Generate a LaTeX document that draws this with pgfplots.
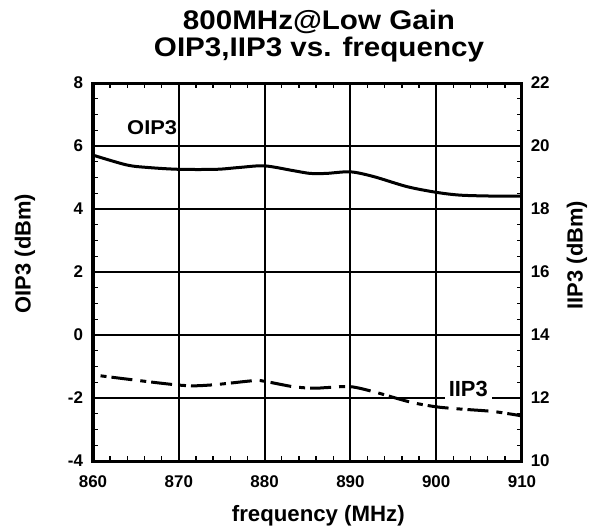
\documentclass[border=0pt]{standalone}
\usepackage{pgfplots}
\pgfplotsset{compat=1.18}
\usepackage{fontspec}
\setmainfont{Liberation Sans}
\begin{document}
\begin{tikzpicture}[font=\bfseries]
\useasboundingbox (-93bp,-70bp) rectangle (506bp,461bp);
\pgfplotsset{
  common/.style={
    scale only axis, width=429bp, height=378bp,
    xmin=860, xmax=910,
    tick align=inside,
    major tick length=0pt, minor tick length=5bp,
    tick style={black, line width=1.4bp},
    axis line style={line width=3bp},
    ticklabel style={font=\fontsize{17}{20}\selectfont\bfseries},
  }
}
\begin{axis}[common,
  ymin=-4, ymax=8,
  xtick={860,870,880,890,900,910},
  xticklabels={860,870,880,890,900,910},
  ytick={-4,-2,0,2,4,6,8},
  yticklabels={-4,-2,0,2,4,6,8},
  minor x tick num=4, minor y tick num=3,
  grid=major, major grid style={black, line width=2bp},
  xticklabel style={yshift=-11bp},
  yticklabel style={xshift=-6.5bp},
]
\addplot[black, line width=3bp, smooth, tension=0.5] coordinates {
 (860,5.71) (863.9,5.40) (866.3,5.32) (870,5.26) (874.4,5.26) (877.1,5.32)
 (880,5.37) (883.3,5.22) (885.3,5.13) (887.2,5.13) (890,5.18) (892.7,5.03)
 (896.6,4.71) (900,4.53) (902.8,4.44) (906.7,4.41) (910,4.41)
};
\node[anchor=base, xscale=1.1, font=\fontsize{20}{24}\selectfont\bfseries] at (axis cs:866.9,6.35) {OIP3};
\end{axis}
\begin{axis}[common,
  ymin=10, ymax=22,
  axis y line*=right, axis x line=none,
  ytick={10,12,14,16,18,20,22},
  yticklabels={10,12,14,16,18,20,22},
  minor y tick num=3,
  yticklabel style={xshift=5.3bp},
]
\addplot[black, line width=3bp, smooth, tension=0.5, dash pattern=on 21bp off 8bp on 6bp off 5bp, dash phase=21bp] coordinates {
 (860,12.74) (861,12.70) (870,12.41) (873.6,12.41) (878.7,12.55) (880,12.53)
 (883.3,12.36) (885.7,12.31) (887.2,12.33) (890,12.36) (892.7,12.20)
 (895,12.02) (897.3,11.85) (900,11.72) (902.8,11.65) (906.7,11.57) (910,11.43)
};
\node[anchor=base, fill=white, inner xsep=3.8bp, inner ysep=4bp, font=\fontsize{22}{26}\selectfont\bfseries] at (axis cs:903.74,12.06) {IIP3};
\end{axis}
\node[rotate=90, font=\fontsize{22}{26}\selectfont\bfseries] at (-68bp,207.5bp) {OIP3 (dBm)};
\node[rotate=90, font=\fontsize{22}{26}\selectfont\bfseries] at (484bp,206bp) {IIP3 (dBm)};
\node[anchor=base, font=\fontsize{22.3}{26}\selectfont\bfseries] at (225.3bp,-60.7bp) {frequency (MHz)};
\node[anchor=base, xscale=1.1, font=\fontsize{27}{32}\selectfont\bfseries] at (226bp,431bp) {800MHz@Low Gain};
\node[anchor=base, xscale=1.1, font=\fontsize{27}{32}\selectfont\bfseries] at (226bp,404bp) {OIP3,IIP3 vs. frequency};
\end{tikzpicture}
\end{document}
